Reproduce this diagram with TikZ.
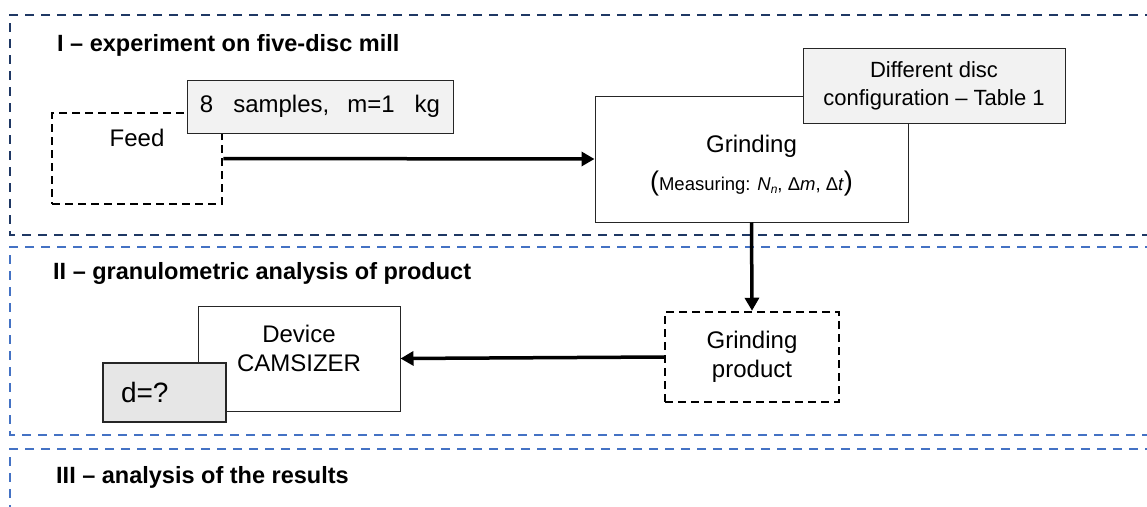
\documentclass[tikz,border=0pt]{standalone}
\usepackage{fontspec}
\setmainfont{Liberation Sans}
\usetikzlibrary{arrows.meta}
\definecolor{stagedark}{RGB}{31,56,100}
\definecolor{stageblue}{RGB}{68,114,196}
\definecolor{notegray}{RGB}{242,242,242}
\definecolor{resgray}{RGB}{230,230,230}

\begin{document}
\begin{tikzpicture}[x=1pt,y=-1pt]
	% Define styles for the frames, boxes and arrows
	\tikzstyle{stage} = [line width=2.5pt, dash pattern=on 9pt off 7pt]
	\tikzstyle{title} = [font=\fontsize{23.5}{28}\selectfont\bfseries, anchor=west, inner sep=0pt]
	\tikzstyle{body} = [font=\fontsize{24}{29}\selectfont, align=center, inner sep=0pt]
	\tikzstyle{solidbox} = [body, draw=black!85, line width=1pt, fill=white]
	\tikzstyle{notebox} = [solidbox, fill=notegray]
	\tikzstyle{dashbox} = [body, draw=black, line width=2.5pt, dash pattern=on 8pt off 5pt, fill=white]
	\tikzstyle{flow} = [line width=3.5pt, -{Triangle[length=13pt,width=14pt]}]

	\clip (0,0) rectangle (1147,506);

	% Frames of the three stages
	\draw[stage, draw=stagedark] (1170,15) -- (10,15) -- (10,235) -- (1170,235);
	\draw[stage, draw=stageblue] (1170,247) -- (10,247) -- (10,435) -- (1170,435);
	\draw[stage, draw=stageblue] (1170,449) -- (10,449) -- (10,520);

	% Stage titles
	\node[title] (stageone) at (57,45) {I – experiment on five-disc mill};
	\node[title] (stagetwo) at (53,273) {II – granulometric analysis of product};
	\node[title] (stagethree) at (56,477) {III – analysis of the results};

	% Stage I
	\node[dashbox, minimum width=170, minimum height=91] (feed) at (137,158.5) {};
	\node[body] (feedtxt) at (137,138) {Feed};
	\node[notebox, minimum width=266, minimum height=53] (samples) at (320,106.5)
		{8\hspace{20pt}samples,\hspace{18pt}m=1\hspace{20pt}kg};

	\node[solidbox, minimum width=313, minimum height=126] (grind) at (751.5,159) {};
	\node[body] (grindtxt) at (751.5,166)
		{Grinding\\[9pt]{\fontsize{27}{27}\selectfont(}{\fontsize{18.5}{20}\selectfont Measuring: \textit{N}\raisebox{-3pt}{\fontsize{12}{12}\selectfont\itshape n}, Δ\textit{m}, Δ\textit{t}}{\fontsize{27}{27}\selectfont)}};
	\node[notebox, minimum width=262, minimum height=75, font=\fontsize{22}{28}\selectfont] (config) at (934,85.5)
		{Different disc\\configuration – Table 1};

	% Stage II
	\node[dashbox, minimum width=174, minimum height=90] (product) at (752,357) {Grinding\\product};
	\node[solidbox, minimum width=202, minimum height=105] (device) at (299,358.5) {};
	\node[body] (devicetxt) at (299,348) {Device\\CAMSIZER};
	\node[solidbox, fill=resgray, line width=2pt, minimum height=59, text width=87pt, inner xsep=18pt, align=left,
		font=\fontsize{28}{30}\selectfont] (dval) at (164.5,392.5) {d=?};

	% Draw the flow arrows
	\draw[flow] (feed.east) -- (grind.west);
	\draw[flow] (grind.south) -- (product.north);
	\draw[flow] (product.west) -- (device.east);
\end{tikzpicture}
\end{document}
